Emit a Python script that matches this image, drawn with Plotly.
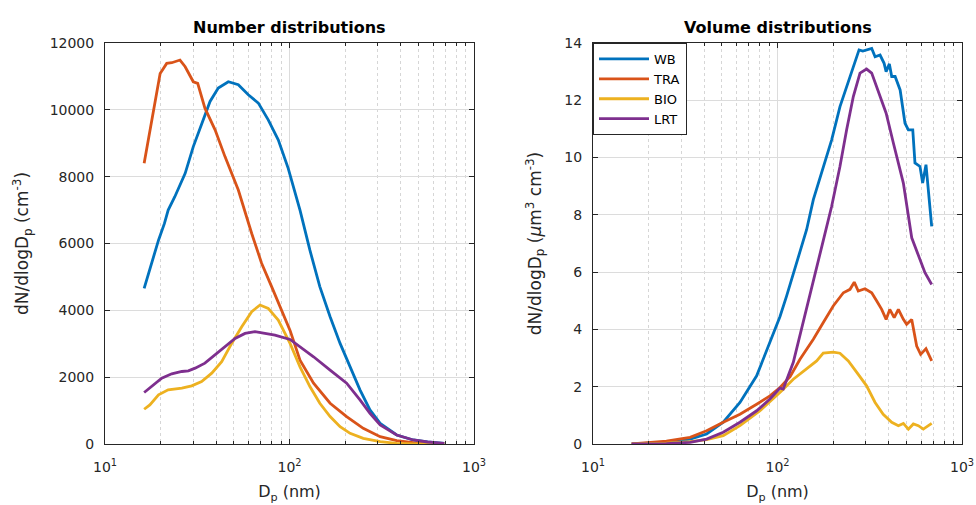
import plotly.graph_objects as go
from plotly.subplots import make_subplots

# ---------------- Number distributions (cm^-3) ----------------
wb_n_d = [16.3, 17.8, 19.5, 21.0, 22.0, 23.9, 27.2, 30.1, 33.4, 37.1, 41.1, 46.6, 52.8, 59.8, 67.8,
          76.7, 86.9, 98.4, 114, 129, 146, 166, 188, 213, 241, 273, 310, 381, 469, 560, 690]
wb_n = [4660, 5400, 6100, 6600, 7000, 7400, 8100, 8900, 9600, 10250, 10650, 10840, 10750, 10450, 10200,
        9700, 9100, 8250, 7000, 5800, 4710, 3810, 3010, 2310, 1620, 1020, 620, 270, 120, 60, 20]

tra_n_d = [16.3, 17.2, 18.7, 19.9, 21.6, 23.0, 25.5, 27.2, 30.1, 31.8, 34.8, 39.5, 44.7, 52.8,
           62.4, 70.6, 80.0, 90.7, 100.7, 114, 135, 166, 204, 251, 310, 381, 469, 560, 690]
tra_n = [8400, 9100, 10300, 11090, 11390, 11410, 11490, 11290, 10840, 10790, 10050, 9400, 8600, 7600,
         6300, 5410, 4710, 4010, 3400, 2510, 1820, 1220, 820, 470, 220, 100, 40, 20, 10]

bio_n_d = [16.3, 17.5, 19.5, 22.0, 26.1, 29.5, 33.4, 37.9, 42.9, 48.6, 55.1, 62.4, 69.2, 76.7,
           86.9, 100.7, 114, 129, 146, 166, 188, 213, 251, 310, 381, 469, 690]
bio_n = [1040, 1170, 1470, 1620, 1670, 1740, 1870, 2120, 2460, 3010, 3510, 3960, 4160, 4060,
         3710, 3010, 2310, 1720, 1220, 820, 520, 320, 170, 70, 20, 5, 0]

lrt_n_d = [16.3, 17.9, 20.3, 23.0, 26.1, 28.3, 30.8, 34.8, 39.5, 44.7, 50.7, 57.4, 65.0, 73.6,
           83.4, 100.7, 114, 135, 166, 204, 241, 273, 310, 381, 469, 560, 690]
lrt_n = [1540, 1720, 1970, 2100, 2170, 2190, 2270, 2420, 2660, 2910, 3160, 3310, 3360, 3310,
         3260, 3130, 2910, 2610, 2210, 1820, 1320, 920, 570, 270, 120, 60, 20]

# ---------------- Volume distributions (um^3 cm^-3) ----------------
wb_v_d = [16.2, 20, 25, 33.6, 41.3, 50.8, 62.6, 77.1, 91.0, 103.2, 112.1, 127.1, 143.9, 156.4,
          177.1, 196.6, 218.1, 247.2, 263.2, 276.7, 290, 304.3, 324, 338, 359.7, 378.3, 387.9,
          404, 416, 434, 462, 491, 512, 541, 556, 592, 612, 638, 657, 685]
wb_v = [0.0, 0.02, 0.06, 0.17, 0.35, 0.76, 1.45, 2.38, 3.54, 4.45, 5.17, 6.33, 7.49, 8.53,
        9.69, 10.62, 11.78, 12.83, 13.29, 13.76, 13.72, 13.76, 13.81, 13.52, 13.58, 13.29, 13.0,
        13.27, 12.83, 12.83, 12.36, 11.2, 10.97, 10.97, 9.81, 9.69, 9.11, 9.75, 8.88, 7.6]

tra_v_d = [16.2, 20, 25, 33.6, 41.3, 50.8, 62.6, 77.1, 91.0, 103.2, 117, 132.4, 156.4, 177.1,
           200.5, 227.5, 247.2, 260.6, 274, 298, 324, 345, 367, 388, 406, 429, 452, 481, 501,
           534, 568, 597, 638, 685]
tra_v = [0.0, 0.04, 0.1, 0.23, 0.46, 0.76, 1.04, 1.39, 1.68, 1.97, 2.35, 2.96, 3.66, 4.24,
         4.82, 5.28, 5.40, 5.65, 5.34, 5.42, 5.28, 4.99, 4.70, 4.35, 4.70, 4.41, 4.70, 4.35, 4.18,
         4.35, 3.42, 3.13, 3.33, 2.90]

bio_v_d = [16.2, 20, 25, 33.6, 41.3, 50.8, 62.6, 80.4, 94.9, 105.4, 121.8, 143.9, 163, 177,
           200.5, 218, 242, 269, 304, 338, 374, 416, 452, 481, 512, 545, 580, 617, 657, 685]
bio_v = [0.0, 0.01, 0.03, 0.08, 0.15, 0.29, 0.64, 1.16, 1.57, 1.86, 2.26, 2.61, 2.90, 3.17,
         3.21, 3.17, 2.90, 2.50, 2.03, 1.45, 1.04, 0.76, 0.64, 0.72, 0.52, 0.70, 0.64, 0.52, 0.64, 0.72]

lrt_v_d = [16.2, 20, 25, 33.6, 41.3, 50.8, 62.6, 77.1, 91.0, 103.2, 107.4, 121.8, 138, 156,
           177, 196.6, 218, 237, 257.6, 280, 304, 324, 345, 388, 424.6, 481, 534, 580, 630, 685]
lrt_v = [0.0, 0.0, 0.01, 0.06, 0.17, 0.41, 0.76, 1.16, 1.57, 1.95, 1.92, 2.85, 4.24, 5.63,
         7.10, 8.30, 9.69, 10.97, 12.13, 12.95, 13.09, 12.95, 12.48, 11.55, 10.51, 9.11, 7.2, 6.56, 5.98, 5.57]

names = ["WB", "TRA", "BIO", "LRT"]
colors = ["#0072BD", "#D95319", "#EDB120", "#7E2F8E"]

number_series = [(wb_n_d, wb_n), (tra_n_d, tra_n), (bio_n_d, bio_n), (lrt_n_d, lrt_n)]
volume_series = [(wb_v_d, wb_v), (tra_v_d, tra_v), (bio_v_d, bio_v), (lrt_v_d, lrt_v)]

x_tickvals = [10, 100, 1000]
x_ticktext = ["10<sup>1</sup>", "10<sup>2</sup>", "10<sup>3</sup>"]

FONT = "DejaVu Sans, Liberation Sans, Arial, sans-serif"
AXC = "#262626"

fig = make_subplots(rows=1, cols=2)

for (d, v), nm, c in zip(number_series, names, colors):
    fig.add_trace(go.Scatter(x=d, y=v, mode="lines", name=nm, showlegend=False,
                             line=dict(color=c, width=2.8)), row=1, col=1)
for (d, v), nm, c in zip(volume_series, names, colors):
    fig.add_trace(go.Scatter(x=d, y=v, mode="lines", name=nm, showlegend=True,
                             line=dict(color=c, width=2.8)), row=1, col=2)

ydom = [61 / 505, 462 / 505]
common_x = dict(type="log", range=[1, 3], tickmode="array", tickvals=x_tickvals, ticktext=x_ticktext,
                showline=True, linecolor=AXC, linewidth=1, mirror="allticks",
                ticks="inside", ticklen=5, tickcolor=AXC, automargin=False,
                showgrid=True, gridcolor="#dcdcdc", gridwidth=1, zeroline=False,
                minor=dict(showgrid=True, gridcolor="#d6d6d6", griddash="dot",
                           tickmode="linear", dtick="D1",
                           ticks="inside", ticklen=3, tickcolor=AXC),
                tickfont=dict(family=FONT, size=14, color=AXC),
                ticklabelstandoff=10,
                title=dict(text="D<sub>p</sub> (nm)", font=dict(family=FONT, size=16, color=AXC),
                           standoff=12))
common_y = dict(showline=True, linecolor=AXC, linewidth=1, mirror="allticks",
                ticks="inside", ticklen=5, tickcolor=AXC, automargin=False,
                showgrid=True, gridcolor="#dcdcdc", gridwidth=1, zeroline=False,
                tickformat="d", ticklabelstandoff=7,
                tickfont=dict(family=FONT, size=14, color=AXC))

fig.update_xaxes(common_x, row=1, col=1, domain=[105 / 976, 474 / 976])
fig.update_xaxes(common_x, row=1, col=2, domain=[593 / 976, 962 / 976])
fig.update_yaxes(common_y, row=1, col=1, domain=ydom, range=[0, 12000], dtick=2000,
                 title=dict(text="dN/dlogD<sub>p</sub> (cm<sup>-3</sup>)",
                            font=dict(family=FONT, size=17, color=AXC), standoff=16))
fig.update_yaxes(common_y, row=1, col=2, domain=ydom, range=[0, 14], dtick=2,
                 title=dict(text="dN/dlogD<sub>p</sub> (<i>μ</i>m<sup>3</sup> cm<sup>-3</sup>)",
                            font=dict(family=FONT, size=17, color=AXC), standoff=18))

fig.add_annotation(text="<b>Number distributions</b>", x=(105 + 474) / 2 / 976, y=1 - 27 / 505,
                   xref="paper", yref="paper", showarrow=False, xanchor="center", yanchor="middle",
                   font=dict(family=FONT, size=16, color="#000000"))
fig.add_annotation(text="<b>Volume distributions</b>", x=(593 + 962) / 2 / 976, y=1 - 27 / 505,
                   xref="paper", yref="paper", showarrow=False, xanchor="center", yanchor="middle",
                   font=dict(family=FONT, size=16, color="#000000"))

fig.update_layout(
    width=976, height=505,
    margin=dict(l=0, r=0, t=0, b=0, autoexpand=False),
    paper_bgcolor="white", plot_bgcolor="white",
    legend=dict(x=593 / 976, y=462 / 505, xanchor="left", yanchor="top",
                bgcolor="white", bordercolor=AXC, borderwidth=1,
                font=dict(family=FONT, size=13, color="#000000"),
                tracegroupgap=0, itemwidth=50),
)

fig.write_html("out.html")
